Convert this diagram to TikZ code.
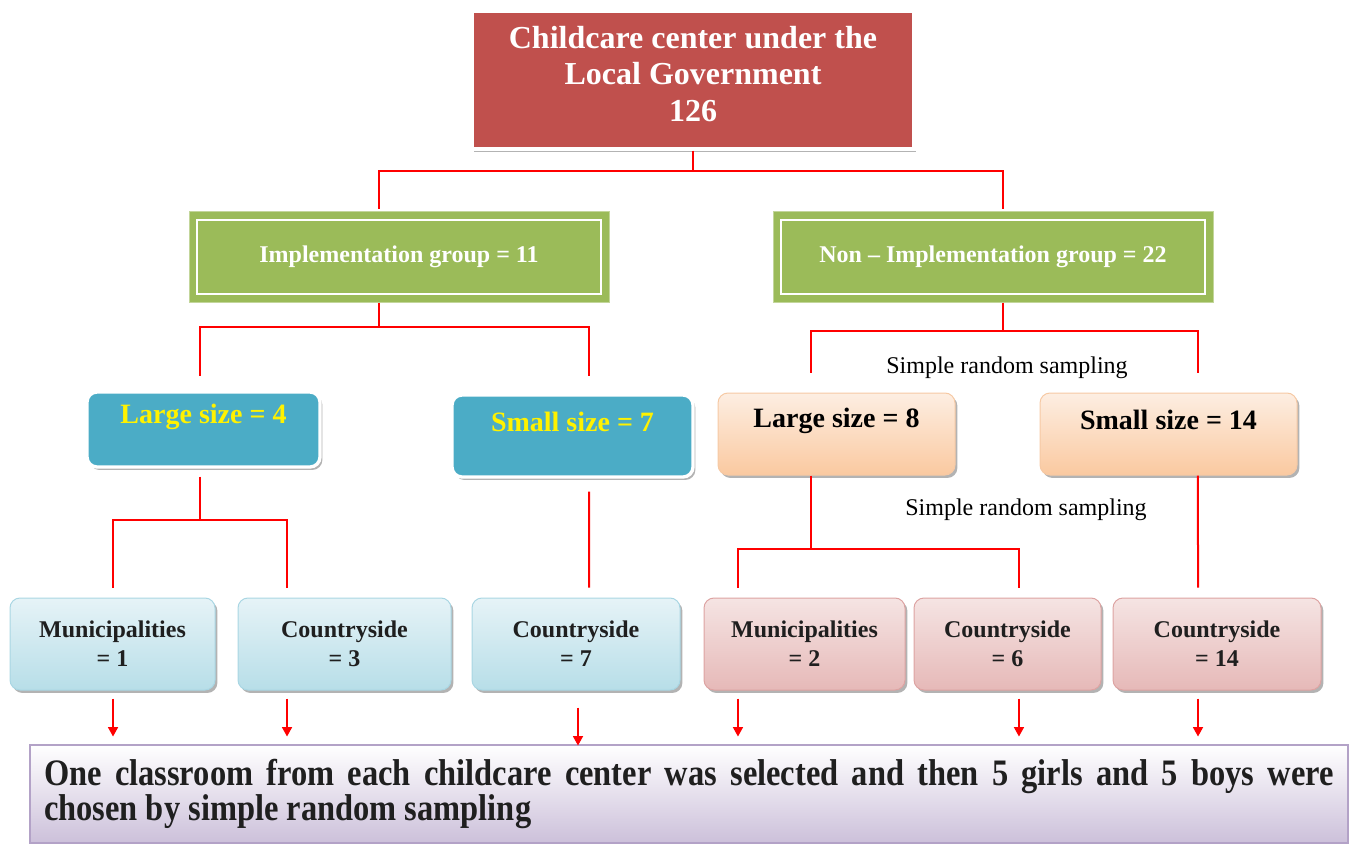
\documentclass[tikz,border=0pt]{standalone}
\usepackage{fontspec}
\setmainfont{Liberation Serif}
\newfontfamily\condserif{Liberation Serif}[FakeStretch=0.87]
\usetikzlibrary{arrows.meta,shadows}
\definecolor{boxred}{HTML}{C0504D}
\definecolor{grp}{HTML}{9BBB59}
\definecolor{szblue}{HTML}{4BACC6}
\definecolor{peachtop}{HTML}{FDEEE2}
\definecolor{peachbot}{HTML}{FAC9A0}
\definecolor{peachedge}{HTML}{F6C9A4}
\definecolor{lbtop}{HTML}{E6F3F7}
\definecolor{lbbot}{HTML}{B7DEE8}
\definecolor{lbedge}{HTML}{A9D6E3}
\definecolor{pktop}{HTML}{F5E4E3}
\definecolor{pkbot}{HTML}{E6B9B8}
\definecolor{pkedge}{HTML}{DDA3A2}
\definecolor{lav}{HTML}{CCC0DA}
\definecolor{lavedge}{HTML}{B3A2C7}
\definecolor{txtdark}{HTML}{1F1F1F}
\begin{document}
\begin{tikzpicture}[x=0.75pt,y=-0.75pt,
  shad/.style={drop shadow={shadow xshift=1.8pt,shadow yshift=-2.2pt,fill=black!50,opacity=0.6}},
  topbox/.style={draw=white,line width=2.5pt,fill=boxred,minimum width=331.5pt,minimum height=103.5pt,shad},
  toptext/.style={text=white,align=center,inner sep=0pt,font=\bfseries\fontsize{24}{27.4}\selectfont},
  greenbox/.style={fill=grp,draw=grp!60!white,line width=0.75pt,minimum height=67.5pt,
    text=white,font=\bfseries\fontsize{18}{22}\selectfont},
  bluebox/.style={rounded corners=7.5pt,fill=szblue,draw=white,line width=2.5pt,shad},
  orangebox/.style={rounded corners=7.5pt,top color=peachtop,bottom color=peachbot,draw=peachedge,line width=0.75pt,shad},
  sizetext/.style={font=\bfseries\fontsize{21}{24}\selectfont,inner sep=0pt},
  leafblue/.style={rounded corners=7.5pt,top color=lbtop,bottom color=lbbot,draw=lbedge,line width=0.75pt,
    minimum height=69pt,shad,align=center,text=txtdark,font=\bfseries\fontsize{18}{21.75}\selectfont},
  leafpink/.style={rounded corners=7.5pt,top color=pktop,bottom color=pkbot,draw=pkedge,line width=0.75pt,
    minimum height=69pt,shad,align=center,text=txtdark,font=\bfseries\fontsize{18}{21.75}\selectfont},
  finbox/.style={top color=white,bottom color=lav,draw=lavedge,line width=1pt,inner xsep=10.5pt,inner ysep=8pt,
    minimum height=73.5pt,text width=967.5pt,align=justify,text=txtdark,
    font=\condserif\bfseries\fontsize{28}{26.25}\selectfont,
    drop shadow={shadow xshift=1pt,shadow yshift=-1pt,fill=black!30,opacity=0.4}},
  samptext/.style={font=\fontsize{18}{22}\selectfont,inner sep=0pt},
  conn/.style={draw=red,line width=1.5pt},
  arr/.style={draw=red,line width=1pt,-{Triangle[width=7.5pt,length=7pt]}}
]
\useasboundingbox (0,0) rectangle (1357,845);

% top
\node[topbox] (top) at (693,80) {};
\node[toptext] (topt) at (693,74) {Childcare center under the\\Local Government\\126};

% groups
\node[greenbox,minimum width=315pt] (g1) at (399,257) {Implementation group = 11};
\node[greenbox,minimum width=330pt] (g2) at (993,257) {Non -- Implementation group = 22};
\draw[white,line width=1.5pt] ([shift={(6.5pt,-6.5pt)}]g1.north west) rectangle ([shift={(-6.5pt,6.5pt)}]g1.south east);
\draw[white,line width=1.5pt] ([shift={(6.5pt,-6.5pt)}]g2.north west) rectangle ([shift={(-6.5pt,6.5pt)}]g2.south east);

% size boxes
\node[bluebox,minimum width=174.75pt,minimum height=56.25pt] (b1) at (203.5,429.5) {};
\node[sizetext,text=yellow] (b1t) at (203.5,417) {Large size = 4};
\node[bluebox,minimum width=180.75pt,minimum height=61.5pt] (b2) at (572.5,436) {};
\node[sizetext,text=yellow] (b2t) at (572.5,422) {Small size = 7};
\node[orangebox,minimum width=177.75pt,minimum height=61.5pt] (o1) at (836.5,434) {};
\node[sizetext,text=black] (o1t) at (836.5,421) {Large size = 8};
\node[orangebox,minimum width=192.75pt,minimum height=61.5pt] (o2) at (1168.5,434) {};
\node[sizetext,text=black] (o2t) at (1168.5,420) {Small size = 14};

% sampling labels
\node[samptext] (s1) at (1007,368) {Simple random sampling};
\node[samptext] (s2) at (1026,510) {Simple random sampling};

% leaf boxes
\node[leafblue,minimum width=153.75pt] (m1) at (112.5,644) {Municipalities\\= 1};
\node[leafblue,minimum width=159.75pt] (m2) at (344.5,644) {Countryside\\= 3};
\node[leafblue,minimum width=156pt] (m3) at (576,644) {Countryside\\= 7};
\node[leafpink,minimum width=150.75pt] (m4) at (804.5,644) {Municipalities\\= 2};
\node[leafpink,minimum width=140.25pt] (m5) at (1007.5,644) {Countryside\\= 6};
\node[leafpink,minimum width=156pt] (m6) at (1217,644) {Countryside\\= 14};

% final box
\node[finbox] (fin) at (689,794) {One classroom from each childcare center was selected and then 5 girls and 5 boys were\linebreak chosen by simple random sampling};

% connectors
\draw[conn] (top.south) -- ++(0,20) -| ([xshift=-15pt,yshift=1.5pt]g1.north);
\draw[conn] (top.south) ++(0,20) -| ([xshift=7.5pt,yshift=1.5pt]g2.north);

\draw[conn] ([xshift=-15pt]g1.south) -- ++(0,24) -| ([xshift=-2.6pt,yshift=10.5pt]b1.north);
\draw[conn] ([xshift=-15pt]g1.south) ++(0,24) -| ([xshift=12.4pt,yshift=12.75pt]b2.north);

\draw[conn] ([xshift=7.5pt]g2.south) -- ++(0,28) -| ([xshift=-19.1pt,yshift=15pt]o1.north);
\draw[conn] ([xshift=7.5pt]g2.south) ++(0,28) -| ([xshift=22.1pt,yshift=15pt]o2.north);

\draw[conn] ([xshift=-2.6pt,yshift=-6pt]b1.south) -- ++(0,43) -| ([yshift=7.5pt]m1.north);
\draw[conn] ([xshift=-2.6pt,yshift=-6pt]b1.south) ++(0,43) -| ([xshift=-43.1pt,yshift=7.5pt]m2.north);

\draw[conn] ([xshift=12.4pt,yshift=-9.75pt]b2.south) -- ([xshift=9.75pt,yshift=7.5pt]m3.north);

\draw[conn] ([xshift=-19.1pt]o1.south) -- ++(0,73) -| ([xshift=-49.9pt,yshift=7.5pt]m4.north);
\draw[conn] ([xshift=-19.1pt]o1.south) ++(0,73) -| ([xshift=8.6pt,yshift=7.5pt]m5.north);

\draw[conn] ([xshift=22.1pt]o2.south) -- ([xshift=-14.25pt,yshift=7.5pt]m6.north);

% arrows to final box
\draw[arr] ([xshift=0.4pt,yshift=-6pt]m1.south) -- ++(0,38);
\draw[arr] ([xshift=-43.1pt,yshift=-6pt]m2.south) -- ++(0,38);
\draw[arr] ([xshift=1.5pt,yshift=-12.75pt]m3.south) -- ++(0,38);
\draw[arr] ([xshift=-49.9pt,yshift=-6pt]m4.south) -- ++(0,38);
\draw[arr] ([xshift=8.6pt,yshift=-6pt]m5.south) -- ++(0,38);
\draw[arr] ([xshift=-14.25pt,yshift=-6pt]m6.south) -- ++(0,38);
\end{tikzpicture}
\end{document}
